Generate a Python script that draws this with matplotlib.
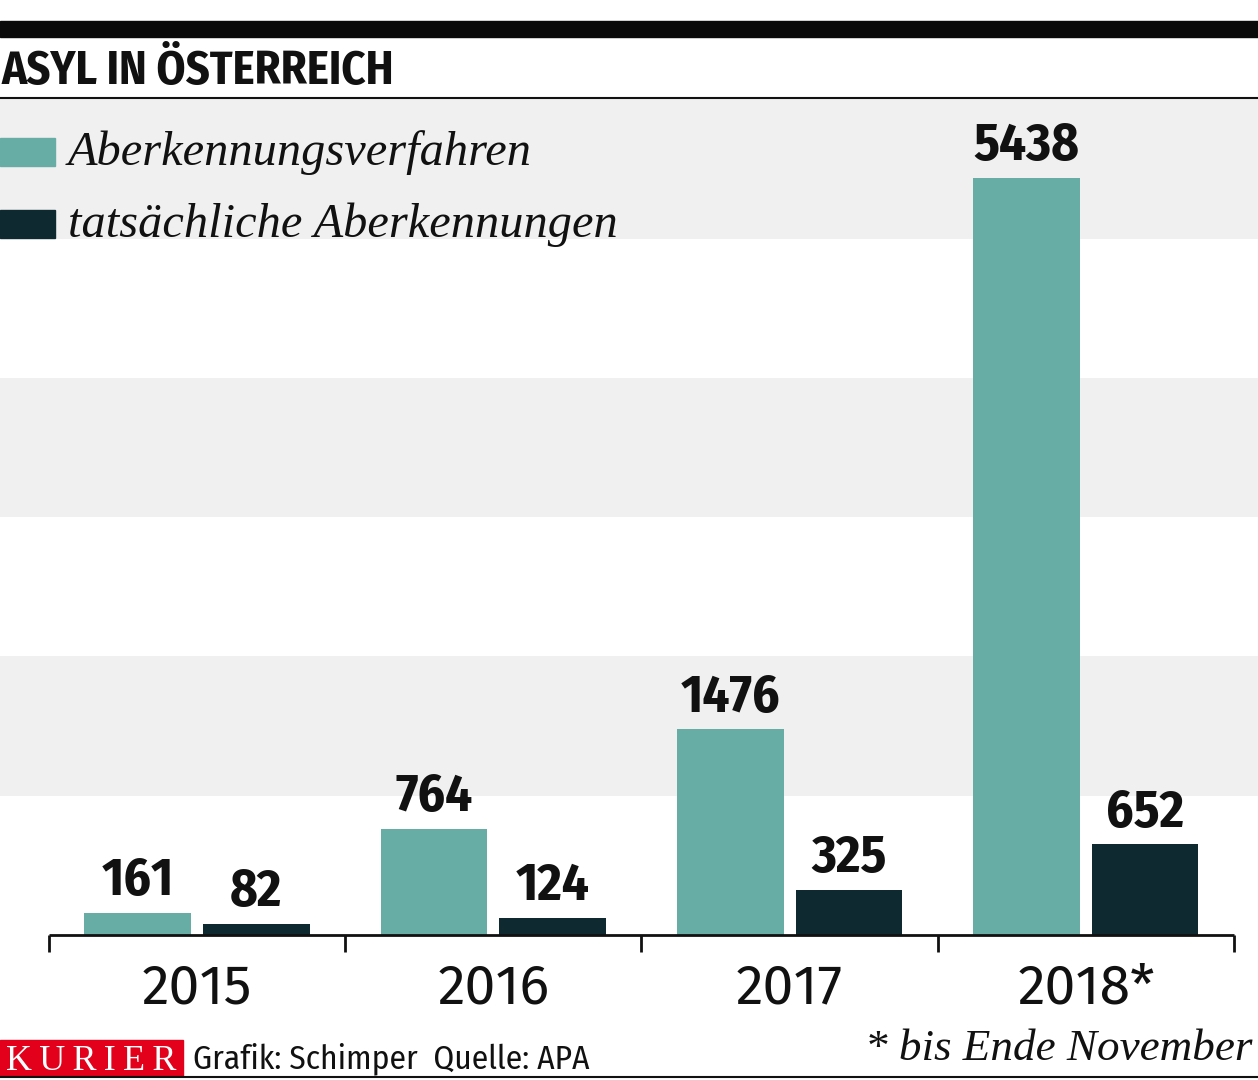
import matplotlib
matplotlib.use("Agg")
import matplotlib.pyplot as plt
from matplotlib import font_manager
import numpy as np

# data
years = ["2015", "2016", "2017", "2018*"]
verfahren = [161, 764, 1476, 5438]
aberkennungen = [82, 124, 325, 652]

teal = "#67ada6"
dark = "#0e2a30"
band = "#f0f0f0"

fonts = font_manager.fontManager.ttflist
bold_names = {f.name for f in fonts if f.weight in (700, "bold")}
cond = "Fira Sans Condensed"
if cond not in bold_names:
    cond = "Barlow Semi Condensed"
plain = "Fira Sans"
serif = "Liberation Serif"

W, H = 1258, 1080
fig = plt.figure(figsize=(W / 100, H / 100), dpi=100)

def fx(px):
    return px / W

def fy(py):
    return 1 - py / H

# axes spans full width, baseline at y=935, top at y=98
ax = fig.add_axes([0, fy(935), 1, fy(98) - fy(935)])
x = np.arange(len(years))
spacing = 296.3
ax.set_xlim(-197 / spacing, (W - 197) / spacing)
ax.set_ylim(0, 6010)

for lo, hi in [(1000, 2000), (3000, 4000), (5000, 6010)]:
    ax.axhspan(lo, hi, color=band, lw=0, zorder=0)

w = 0.36
b1 = ax.bar(x - 0.2, verfahren, w, color=teal, zorder=2)
b2 = ax.bar(x + 0.2, aberkennungen, w, color=dark, zorder=2)

for bars, vals in [(b1, verfahren), (b2, aberkennungen)]:
    for r, v in zip(bars, vals):
        ax.annotate(str(v), (r.get_x() + r.get_width() / 2, v),
                    xytext=(0, 4), textcoords="offset points",
                    ha="center", va="bottom", fontsize=38,
                    fontweight="bold", family=cond, color="#111111")

# axis line and boundary ticks
ax.hlines(0, -0.5, len(years) - 0.5, color="#111111", lw=2, clip_on=False, zorder=3)
ax.vlines(np.arange(len(years) + 1) - 0.5, -122, 0, color="#111111", lw=2,
          clip_on=False, zorder=3)

for s in ax.spines.values():
    s.set_visible(False)
ax.set_yticks([])
ax.set_xticks(x)
ax.set_xticklabels(years, fontsize=40, family=[plain, "Liberation Sans"], color="#111111")
ax.tick_params(axis="x", length=0, pad=19)

# header
fig.patches.append(plt.Rectangle((0, fy(37)), 1, fy(21) - fy(37),
                                 transform=fig.transFigure, color="#0a0a0a"))
fig.add_artist(plt.Line2D([0, 1], [fy(98), fy(98)], color="#111111", lw=1.5))
fig.text(fx(2), fy(84), "ASYL IN ÖSTERREICH", fontsize=33.5, fontweight="bold",
         family=cond, color="#111111", va="baseline", ha="left")

# legend
fig.patches.append(plt.Rectangle((0, fy(166)), fx(55), fy(138) - fy(166),
                                 transform=fig.transFigure, color=teal))
fig.patches.append(plt.Rectangle((0, fy(238)), fx(55), fy(210) - fy(238),
                                 transform=fig.transFigure, color=dark))
fig.text(fx(68), fy(165), "Aberkennungsverfahren", fontsize=34.8, style="italic",
         family=serif, color="#111111", va="baseline")
fig.text(fx(68), fy(237), "tatsächliche Aberkennungen", fontsize=34.8, style="italic",
         family=serif, color="#111111", va="baseline")

# footer
fig.patches.append(plt.Rectangle((0, fy(1076)), fx(183), fy(1040) - fy(1076),
                                 transform=fig.transFigure, color="#e2001a"))
fig.text(fx(91), fy(1070), "K\u2009U\u2009R\u2009I\u2009E\u2009R", fontsize=26,
         family=serif, color="white", ha="center", va="baseline")
fig.text(fx(193), fy(1068), "Grafik: Schimper  Quelle: APA", fontsize=24,
         family=cond, color="#111111", va="baseline")
fig.text(fx(1252), fy(1060), "* bis Ende November", fontsize=32.5, style="italic",
         family=serif, color="#111111", ha="right", va="baseline")
fig.add_artist(plt.Line2D([0, 1], [fy(1077), fy(1077)], color="#111111", lw=1.5))

fig.savefig("out.png", dpi=100)
